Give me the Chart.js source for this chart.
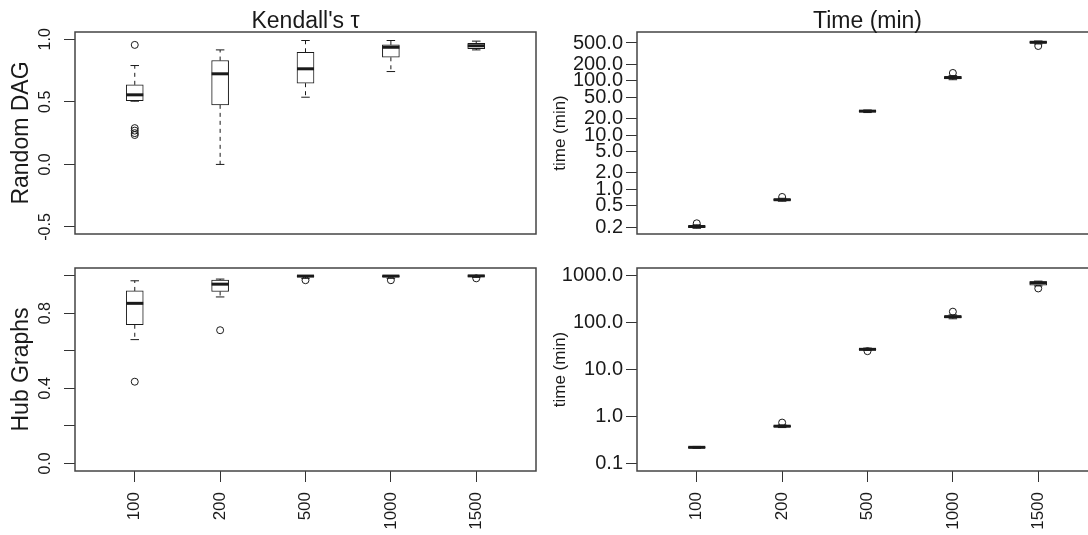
<!DOCTYPE html>
<html>
<head>
<meta charset="utf-8">
<script src="https://cdn.jsdelivr.net/npm/chart.js@4.4.1/dist/chart.umd.min.js"></script>
<style>
  html, body { margin: 0; padding: 0; background: #fff; overflow: hidden; width: 1088px; height: 535px; }
  canvas { position: absolute; }
</style>
</head>
<body>
<canvas id="c1" width="545" height="250" style="left:0;top:0"></canvas>
<canvas id="c2" width="560" height="250" style="left:545px;top:0"></canvas>
<canvas id="c3" width="545" height="285" style="left:0;top:250px"></canvas>
<canvas id="c4" width="560" height="285" style="left:545px;top:250px"></canvas>
<script>
const sizes = ["100", "200", "500", "1000", "1500"];

// Kendall's tau, random DAG
const dagTauLow  = [0.505, 0.0,   0.537, 0.742, 0.915];
const dagTauQ1   = [0.51,  0.476, 0.649, 0.856, 0.925];
const dagTauMed  = [0.556, 0.724, 0.764, 0.936, 0.948];
const dagTauQ3   = [0.636, 0.83,  0.896, 0.955, 0.968];
const dagTauHigh = [0.79,  0.915, 0.99,  0.99,  0.985];
const dagTauOut  = [[0.955, 0.29, 0.27, 0.25, 0.235], [], [], [], []];

// time, random DAG
const dagTimeLow  = [0.19,  0.6,  26,   105, 480];
const dagTimeQ1   = [0.198, 0.62, 27,   110, 500];
const dagTimeMed  = [0.205, 0.64, 27.6, 115, 515];
const dagTimeQ3   = [0.21,  0.66, 28.2, 120, 530];
const dagTimeHigh = [0.22,  0.68, 29,   125, 545];
const dagTimeOut  = [[0.235], [0.72], [], [140], [440]];

// Kendall's tau, hub graphs
const hubTauLow  = [0.659, 0.886, 0.985, 0.985, 0.99];
const hubTauQ1   = [0.738, 0.915, 0.992, 0.992, 0.995];
const hubTauMed  = [0.852, 0.954, 0.997, 0.997, 0.998];
const hubTauQ3   = [0.918, 0.976, 1.0,   1.0,   1.0];
const hubTauHigh = [0.972, 0.981, 1.0,   1.0,   1.0];
const hubTauOut  = [[0.435], [0.709], [0.975], [0.975], [0.985]];

// time, hub graphs
const hubTimeLow  = [0.21,  0.58, 25.5, 120, 600];
const hubTimeQ1   = [0.215, 0.6,  26.3, 127, 620];
const hubTimeMed  = [0.22,  0.62, 26.8, 133, 700];
const hubTimeQ3   = [0.225, 0.64, 27.5, 138, 740];
const hubTimeHigh = [0.23,  0.66, 28.5, 145, 760];
const hubTimeOut  = [[], [0.74], [24.5], [170], [530]];

// axis ticks
const tauTicksDag  = [-0.5, 0, 0.5, 1];
const tauLabelsDag = ["-0.5", "0.0", "0.5", "1.0"];
const tauTicksHub  = [0, 0.2, 0.4, 0.6, 0.8, 1];
const tauLabelsHub = ["0.0", "", "0.4", "", "0.8", ""];
const timeTicksDag  = [0.2, 0.5, 1, 2, 5, 10, 20, 50, 100, 200, 500];
const timeLabelsDag = ["0.2", "0.5", "1.0", "2.0", "5.0", "10.0", "20.0", "50.0", "100.0", "200.0", "500.0"];
const timeTicksHub  = [0.1, 1, 10, 100, 1000];
const timeLabelsHub = ["0.1", "1.0", "10.0", "100.0", "1000.0"];

const FONT = "'Liberation Sans', Arial, sans-serif";
const INK = "#1a1a1a";
const BOXW = 17;

function seg(ctx, x1, y1, x2, y2) {
  ctx.beginPath();
  ctx.moveTo(x1, y1);
  ctx.lineTo(x2, y2);
  ctx.stroke();
}

function boxChart(id, st, o) {
  const boxes = sizes.map((s, i) => ({ x: i + 1, y: [st.q1[i], st.q3[i]] }));
  const outs = [];
  st.out.forEach((arr, i) => arr.forEach(v => outs.push({ x: i + 1, y: v })));

  const parts = {
    id: "boxParts",
    beforeDatasetsDraw(chart) {
      const { ctx, scales: { x, y } } = chart;
      ctx.save();
      ctx.strokeStyle = INK;
      ctx.lineWidth = 1;
      for (let i = 0; i < sizes.length; i++) {
        const px = x.getPixelForValue(i + 1);
        ctx.setLineDash([4, 4]);
        seg(ctx, px, y.getPixelForValue(st.q3[i]), px, y.getPixelForValue(st.high[i]));
        seg(ctx, px, y.getPixelForValue(st.q1[i]), px, y.getPixelForValue(st.low[i]));
        ctx.setLineDash([]);
        const cap = BOXW / 4;
        seg(ctx, px - cap, y.getPixelForValue(st.high[i]), px + cap, y.getPixelForValue(st.high[i]));
        seg(ctx, px - cap, y.getPixelForValue(st.low[i]), px + cap, y.getPixelForValue(st.low[i]));
      }
      ctx.restore();
    },
    afterDatasetsDraw(chart) {
      const { ctx, scales: { x, y } } = chart;
      ctx.save();
      ctx.strokeStyle = INK;
      ctx.lineWidth = 3;
      for (let i = 0; i < sizes.length; i++) {
        const px = x.getPixelForValue(i + 1);
        const py = y.getPixelForValue(st.med[i]);
        seg(ctx, px - BOXW / 2, py, px + BOXW / 2, py);
      }
      ctx.restore();
    },
    afterDraw(chart) {
      const { ctx, chartArea: a, scales: { y } } = chart;
      ctx.save();
      // frame
      ctx.strokeStyle = "#444";
      ctx.lineWidth = 1.5;
      ctx.strokeRect(a.left, a.top, a.right - a.left, a.bottom - a.top);
      ctx.fillStyle = INK;
      // column title
      if (o.title) {
        ctx.font = "23px " + FONT;
        ctx.textAlign = "center";
        ctx.textBaseline = "alphabetic";
        ctx.fillText(o.title, (a.left + a.right) / 2, 28);
      }
      // row label
      if (o.row) {
        ctx.save();
        ctx.translate(28, (a.top + a.bottom) / 2);
        ctx.rotate(-Math.PI / 2);
        ctx.font = "23px " + FONT;
        ctx.textAlign = "center";
        ctx.fillText(o.row, 0, 0);
        ctx.restore();
      }
      // rotated y tick labels (left panels)
      if (o.yRotLabels) {
        ctx.font = "16px " + FONT;
        ctx.textAlign = "center";
        y.ticks.forEach((t, i) => {
          const lab = o.yRotLabels[i];
          if (!lab) return;
          ctx.save();
          ctx.translate(50, y.getPixelForValue(t.value));
          ctx.rotate(-Math.PI / 2);
          ctx.fillText(lab, 0, 0);
          ctx.restore();
        });
      }
      // y axis title (right panels)
      if (o.ylab) {
        ctx.save();
        ctx.translate(20, (a.top + a.bottom) / 2);
        ctx.rotate(-Math.PI / 2);
        ctx.font = "17px " + FONT;
        ctx.textAlign = "center";
        ctx.fillText(o.ylab, 0, 0);
        ctx.restore();
      }
      ctx.restore();
    }
  };

  return new Chart(document.getElementById(id), {
    type: "bar",
    data: {
      datasets: [
        {
          type: "bar",
          data: boxes,
          backgroundColor: "#fff",
          borderColor: INK,
          borderWidth: 1,
          borderSkipped: false,
          barThickness: BOXW,
        },
        {
          type: "scatter",
          data: outs,
          pointStyle: "circle",
          pointRadius: 3.5,
          pointBackgroundColor: "rgba(0,0,0,0)",
          pointBorderColor: INK,
          pointBorderWidth: 1,
          showLine: false,
        },
      ],
    },
    options: {
      responsive: false,
      animation: false,
      events: [],
      layout: { padding: o.padding },
      plugins: { legend: { display: false }, tooltip: { enabled: false } },
      scales: {
        x: {
          type: "linear",
          min: 0.3,
          max: 5.7,
          offset: false,
          display: o.showX,
          afterBuildTicks: s => { s.ticks = sizes.map((_, i) => ({ value: i + 1 })); },
          afterFit: s => { s.height = o.showX ? 64 : 0; },
          ticks: {
            callback: v => sizes[Math.round(v) - 1],
            minRotation: 90,
            maxRotation: 90,
            autoSkip: false,
            padding: 10,
            color: INK,
            font: { family: FONT, size: 17 },
          },
          grid: { offset: false, drawOnChartArea: false, tickLength: 11, color: "#333" },
          border: { display: false },
        },
        y: {
          type: o.log ? "logarithmic" : "linear",
          min: o.min,
          max: o.max,
          beginAtZero: false,
          afterBuildTicks: s => { s.ticks = o.ticks.map(v => ({ value: v })); },
          afterFit: s => { s.width = o.yWidth; },
          ticks: {
            display: !o.yRotLabels,
            callback: (v, i) => (o.tickLabels ? o.tickLabels[i] : ""),
            autoSkip: false,
            padding: 3,
            color: INK,
            font: { family: FONT, size: 20 },
          },
          grid: { drawOnChartArea: false, tickLength: 11, color: "#333" },
          border: { display: false },
        },
      },
    },
    plugins: [parts],
  });
}

boxChart("c1",
  { low: dagTauLow, q1: dagTauQ1, med: dagTauMed, q3: dagTauQ3, high: dagTauHigh, out: dagTauOut },
  { title: "Kendall's \u03c4", row: "Random DAG", showX: false, min: -0.556, max: 1.058,
    ticks: tauTicksDag, yRotLabels: tauLabelsDag, yWidth: 75,
    padding: { left: 0, top: 32, right: 9, bottom: 16 } });

boxChart("c2",
  { low: dagTimeLow, q1: dagTimeQ1, med: dagTimeMed, q3: dagTimeQ3, high: dagTimeHigh, out: dagTimeOut },
  { title: "Time (min)", ylab: "time (min)", showX: false, log: true, min: 0.149, max: 798,
    ticks: timeTicksDag, tickLabels: timeLabelsDag, yWidth: 92,
    padding: { left: 0, top: 32, right: 7, bottom: 16 } });

boxChart("c3",
  { low: hubTauLow, q1: hubTauQ1, med: hubTauMed, q3: hubTauQ3, high: hubTauHigh, out: hubTauOut },
  { row: "Hub Graphs", showX: true, min: -0.04, max: 1.04,
    ticks: tauTicksHub, yRotLabels: tauLabelsHub, yWidth: 75,
    padding: { left: 0, top: 18, right: 9, bottom: 0 } });

boxChart("c4",
  { low: hubTimeLow, q1: hubTimeQ1, med: hubTimeMed, q3: hubTimeQ3, high: hubTimeHigh, out: hubTimeOut },
  { ylab: "time (min)", showX: true, log: true, min: 0.069, max: 1445,
    ticks: timeTicksHub, tickLabels: timeLabelsHub, yWidth: 92,
    padding: { left: 0, top: 18, right: 7, bottom: 0 } });
</script>
</body>
</html>
